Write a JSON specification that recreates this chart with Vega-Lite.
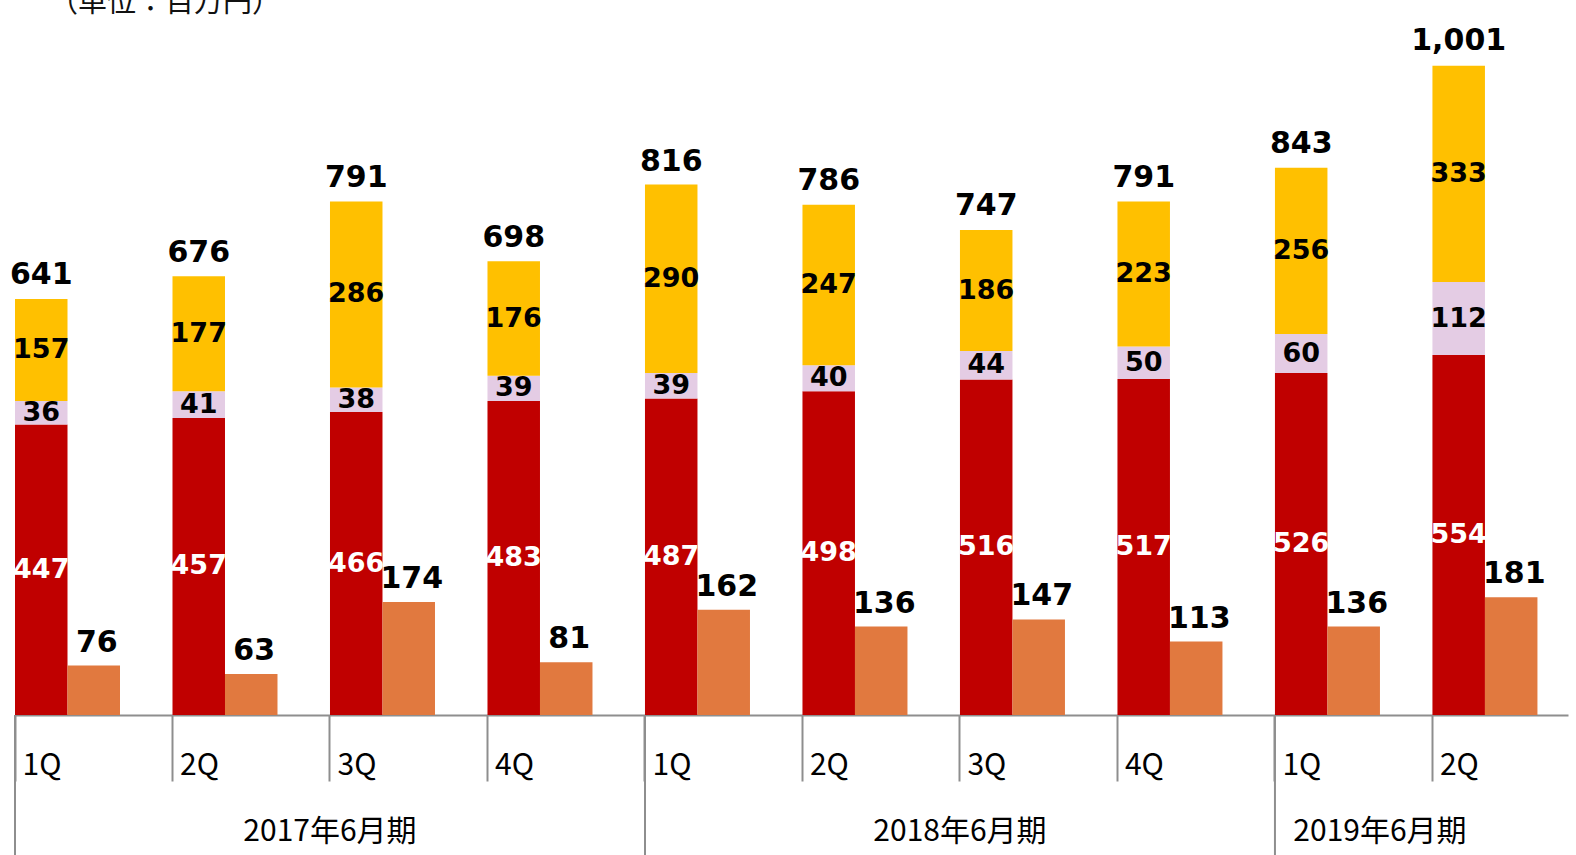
{
  "$schema": "https://vega.github.io/schema/vega-lite/v6.json",
  "width": 1553,
  "height": 685,
  "autosize": {"type": "none"},
  "padding": {"left": 15, "top": 30, "right": 8, "bottom": 140},
  "background": "white",
  "config": {"view": {"stroke": null}},
  "title": {"text": "（単位：百万円）", "anchor": "start", "frame": "group", "orient": "top", "offset": 8, "dx": 34, "font": "Noto Sans CJK JP", "fontSize": 29, "fontWeight": "normal", "color": "#111111", "baseline": "top"},
  "datasets": {
    "seg": [
      {"q": "2017年6月期 1Q", "s": "A", "v": 447}, {"q": "2017年6月期 1Q", "s": "B", "v": 36}, {"q": "2017年6月期 1Q", "s": "C", "v": 157},
      {"q": "2017年6月期 2Q", "s": "A", "v": 457}, {"q": "2017年6月期 2Q", "s": "B", "v": 41}, {"q": "2017年6月期 2Q", "s": "C", "v": 177},
      {"q": "2017年6月期 3Q", "s": "A", "v": 466}, {"q": "2017年6月期 3Q", "s": "B", "v": 38}, {"q": "2017年6月期 3Q", "s": "C", "v": 286},
      {"q": "2017年6月期 4Q", "s": "A", "v": 483}, {"q": "2017年6月期 4Q", "s": "B", "v": 39}, {"q": "2017年6月期 4Q", "s": "C", "v": 176},
      {"q": "2018年6月期 1Q", "s": "A", "v": 487}, {"q": "2018年6月期 1Q", "s": "B", "v": 39}, {"q": "2018年6月期 1Q", "s": "C", "v": 290},
      {"q": "2018年6月期 2Q", "s": "A", "v": 498}, {"q": "2018年6月期 2Q", "s": "B", "v": 40}, {"q": "2018年6月期 2Q", "s": "C", "v": 247},
      {"q": "2018年6月期 3Q", "s": "A", "v": 516}, {"q": "2018年6月期 3Q", "s": "B", "v": 44}, {"q": "2018年6月期 3Q", "s": "C", "v": 186},
      {"q": "2018年6月期 4Q", "s": "A", "v": 517}, {"q": "2018年6月期 4Q", "s": "B", "v": 50}, {"q": "2018年6月期 4Q", "s": "C", "v": 223},
      {"q": "2019年6月期 1Q", "s": "A", "v": 526}, {"q": "2019年6月期 1Q", "s": "B", "v": 60}, {"q": "2019年6月期 1Q", "s": "C", "v": 256},
      {"q": "2019年6月期 2Q", "s": "A", "v": 554}, {"q": "2019年6月期 2Q", "s": "B", "v": 112}, {"q": "2019年6月期 2Q", "s": "C", "v": 333}
    ],
    "single": [
      {"q": "2017年6月期 1Q", "v": 76}, {"q": "2017年6月期 2Q", "v": 63}, {"q": "2017年6月期 3Q", "v": 174}, {"q": "2017年6月期 4Q", "v": 81},
      {"q": "2018年6月期 1Q", "v": 162}, {"q": "2018年6月期 2Q", "v": 136}, {"q": "2018年6月期 3Q", "v": 147}, {"q": "2018年6月期 4Q", "v": 113},
      {"q": "2019年6月期 1Q", "v": 136}, {"q": "2019年6月期 2Q", "v": 181}
    ],
    "totals": [
      {"q": "2017年6月期 1Q", "total": 641}, {"q": "2017年6月期 2Q", "total": 676}, {"q": "2017年6月期 3Q", "total": 791}, {"q": "2017年6月期 4Q", "total": 698},
      {"q": "2018年6月期 1Q", "total": 816}, {"q": "2018年6月期 2Q", "total": 786}, {"q": "2018年6月期 3Q", "total": 747}, {"q": "2018年6月期 4Q", "total": 791},
      {"q": "2019年6月期 1Q", "total": 843}, {"q": "2019年6月期 2Q", "total": 1001}
    ],
    "years": [
      {"fy": "2017年6月期", "first": "2017年6月期 1Q", "mid": "2017年6月期 3Q"},
      {"fy": "2018年6月期", "first": "2018年6月期 1Q", "mid": "2018年6月期 3Q"},
      {"fy": "2019年6月期", "first": "2019年6月期 1Q", "mid": "2019年6月期 1Q"}
    ]
  },
  "layer": [
    {
      "data": {"name": "seg"},
      "mark": {"type": "bar"},
      "encoding": {
        "x": {
          "field": "q", "type": "nominal", "sort": null,
          "scale": {"domain": ["2017年6月期 1Q", "2017年6月期 2Q", "2017年6月期 3Q", "2017年6月期 4Q", "2018年6月期 1Q", "2018年6月期 2Q", "2018年6月期 3Q", "2018年6月期 4Q", "2019年6月期 1Q", "2019年6月期 2Q"], "paddingInner": 0.3333, "paddingOuter": 0.097, "align": 0},
          "axis": {"title": null, "bandPosition": 0, "labelExpr": "split(datum.label, ' ')[1]", "labelAlign": "left", "labelOffset": -45, "labelBaseline": "top", "labelPadding": -31, "labelFont": "Noto Sans CJK JP", "labelFontSize": 30, "labelColor": "#000000", "labelAngle": 0, "labelOverlap": false, "labelFlush": false, "labelBound": false, "tickSize": 66, "tickColor": "#8E8E8E", "tickWidth": 2, "domainColor": "#8E8E8E", "domainWidth": 2, "grid": false}
        },
        "xOffset": {"datum": "L", "scale": {"domain": ["L", "R"], "paddingInner": 0, "paddingOuter": 0}},
        "y": {"field": "v", "type": "quantitative", "stack": "zero", "scale": {"domain": [0, 1053.85], "nice": false}, "axis": null},
        "color": {"field": "s", "type": "nominal", "scale": {"domain": ["A", "B", "C"], "range": ["#C00000", "#E4CCE4", "#FFC000"]}, "legend": null},
        "order": {"field": "s", "sort": "ascending"}
      }
    },
    {
      "data": {"name": "seg"},
      "mark": {"type": "text", "font": "DejaVu Sans", "fontWeight": "bold", "fontSize": 27, "baseline": "middle", "align": "center"},
      "encoding": {
        "x": {"field": "q", "type": "nominal", "sort": null},
        "xOffset": {"datum": "L"},
        "y": {"field": "v", "type": "quantitative", "stack": "zero", "bandPosition": 0.5},
        "detail": {"field": "s"},
        "order": {"field": "s", "sort": "ascending"},
        "text": {"field": "v", "type": "quantitative"},
        "color": {"condition": {"test": "datum.s === 'A'", "value": "#FFFFFF"}, "value": "#000000"}
      }
    },
    {
      "data": {"name": "single"},
      "mark": {"type": "bar", "color": "#E1793F"},
      "encoding": {
        "x": {"field": "q", "type": "nominal", "sort": null},
        "xOffset": {"datum": "R"},
        "y": {"field": "v", "type": "quantitative"}
      }
    },
    {
      "data": {"name": "single"},
      "mark": {"type": "text", "font": "DejaVu Sans", "fontWeight": "bold", "fontSize": 30, "baseline": "alphabetic", "align": "center", "dy": -14, "dx": 3, "color": "#000000"},
      "encoding": {
        "x": {"field": "q", "type": "nominal", "sort": null},
        "xOffset": {"datum": "R"},
        "y": {"field": "v", "type": "quantitative"},
        "text": {"field": "v", "type": "quantitative"}
      }
    },
    {
      "data": {"name": "totals"},
      "mark": {"type": "text", "font": "DejaVu Sans", "fontWeight": "bold", "fontSize": 30, "baseline": "alphabetic", "align": "center", "dy": -14, "color": "#000000"},
      "encoding": {
        "x": {"field": "q", "type": "nominal", "sort": null},
        "xOffset": {"datum": "L"},
        "y": {"field": "total", "type": "quantitative"},
        "text": {"field": "total", "type": "quantitative", "format": ","}
      }
    },
    {
      "data": {"name": "years"},
      "mark": {"type": "rule", "color": "#8E8E8E", "strokeWidth": 2},
      "encoding": {
        "x": {"field": "first", "type": "nominal", "sort": null, "bandPosition": 0},
        "y": {"datum": 0},
        "y2": {"datum": -240}
      }
    },
    {
      "data": {"name": "years"},
      "transform": [{"filter": "datum.fy !== '2019年6月期'"}],
      "mark": {"type": "text", "font": "Noto Sans CJK JP", "fontSize": 30, "baseline": "middle", "align": "center", "color": "#000000"},
      "encoding": {
        "x": {"field": "mid", "type": "nominal", "sort": null, "bandPosition": 0},
        "y": {"datum": -180},
        "text": {"field": "fy"}
      }
    },
    {
      "data": {"name": "years"},
      "transform": [{"filter": "datum.fy === '2019年6月期'"}],
      "mark": {"type": "text", "font": "Noto Sans CJK JP", "fontSize": 30, "baseline": "middle", "align": "center", "color": "#000000"},
      "encoding": {
        "x": {"field": "mid", "type": "nominal", "sort": null, "bandPosition": 1},
        "y": {"datum": -180},
        "text": {"field": "fy"}
      }
    }
  ]
}
